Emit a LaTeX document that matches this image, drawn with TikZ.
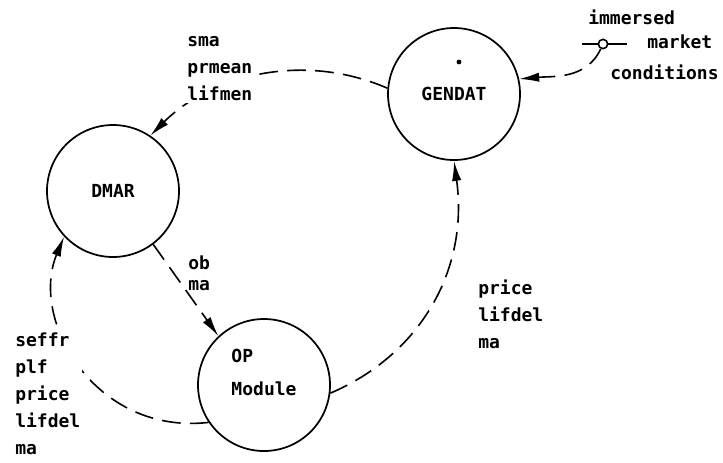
\documentclass[tikz,border=0pt]{standalone}
\usepackage{fontspec}
\setmonofont{DejaVu Sans Mono}
\usepackage{tikz}
\usetikzlibrary{arrows.meta}
\tikzstyle{module}=[circle,draw=black,line width=1.3pt,minimum size=99pt,inner sep=0mm,align=left]
\tikzstyle{flowlabel}=[inner sep=1.5pt,align=left,anchor=west]
\tikzstyle{flow}=[->,line width=1.2pt,dash pattern=on 14pt off 7pt]
\tikzset{every picture/.style={
    font=\ttfamily\bfseries\fontsize{13.5}{20.25}\selectfont,
    >={Latex[length=15pt,width=7pt]}
  }
}

\begin{document}
\begin{tikzpicture}[x=0.75pt,y=-0.75pt]
      \useasboundingbox (0,0) rectangle (723,462);
      \node[module] at (454,94) (gendat) {GENDAT};
      \node[module] at (113,191) (dmar) {DMAR};
      \node[module] at (264,385) (op) {OP\\[4.5pt]Module\\[-8pt]\strut};
      \fill (459,62) circle (1.8pt);
      \coordinate (srcw) at (582,44);
      \coordinate (srce) at (627,44);
      \draw[line width=1.2pt] (srcw) -- (srce);
      \node[circle,draw,line width=1.2pt,fill=white,inner sep=0pt,minimum size=7pt] at (603,44) (src) {};
      \draw[flow] (src.-115) to[out=-115,in=5] (gendat.13);
      \draw[flow] (gendat.175) .. controls +(-88,-38) and +(58,-58) .. (dmar.56);
      \draw[flow] (dmar.-53) -- (op.133);
      \draw[flow] (op.-7) .. controls +(89,-38) and +(15,110) .. (gendat.south);
      \draw[flow] (op.214) .. controls +(-113,13) and +(-35,84) .. (dmar.223);
      \node[flowlabel,fill=white] at (185,69) (smalbl) {sma\\prmean\\lifmen};
      \node[flowlabel] at (186,273) (obmalbl) {ob\\[-4.5pt]ma};
      \node[flowlabel] at (476,314) (pricelbl) {price\\lifdel\\ma};
      \node[flowlabel,fill=white] at (13,394) (seffrlbl) {seffr\\plf\\price\\lifdel\\ma};
      \node[flowlabel] at (586,17) (immlbl) {immersed};
      \node[flowlabel] at (645,42) (mktlbl) {market};
      \node[flowlabel] at (608,72) (condlbl) {conditions};
    \end{tikzpicture}
\end{document}
